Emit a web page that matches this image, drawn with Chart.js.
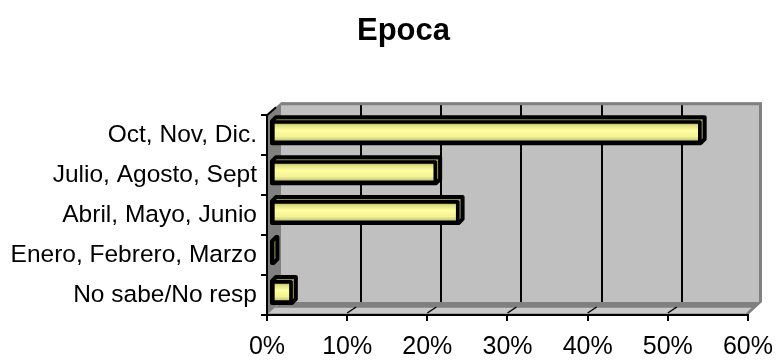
<!DOCTYPE html>
<html>
<head>
<meta charset="utf-8">
<script src="https://cdn.jsdelivr.net/npm/chart.js@4.4.1/dist/chart.umd.min.js"></script>
<style>
  html, body { margin: 0; padding: 0; background: #fff; }
  #wrap { width: 784px; height: 361px; }
</style>
</head>
<body>
<div id="wrap"><canvas id="c" width="784" height="361"></canvas></div>
<script>
// Época del año (porcentaje de respuestas)
const categories = ['Oct, Nov, Dic.', 'Julio, Agosto, Sept', 'Abril, Mayo, Junio', 'Enero, Febrero, Marzo', 'No sabe/No resp'];
const shares = [53.6, 20.6, 23.4, 0.3, 2.6];
const tickValues = [0, 10, 20, 30, 40, 50, 60];
const chartTitle = 'Epoca';

// 3D look: depth of the walls and the bars
const DX = 14, DY = -13;
const BAR_SHIFT_X = 4, BAR_SHIFT_Y = -3;
const BAR_DEPTH = 4;
const BAR_T = 22;
const FONT = "'Liberation Sans', Arial, sans-serif";

function poly(ctx, pts, fill, stroke, lw) {
  ctx.beginPath();
  ctx.moveTo(pts[0][0], pts[0][1]);
  for (let i = 1; i < pts.length; i++) ctx.lineTo(pts[i][0], pts[i][1]);
  ctx.closePath();
  if (fill) { ctx.fillStyle = fill; ctx.fill(); }
  if (stroke) { ctx.strokeStyle = stroke; ctx.lineWidth = lw || 1; ctx.stroke(); }
}
function seg(ctx, x1, y1, x2, y2) {
  ctx.beginPath(); ctx.moveTo(x1, y1); ctx.lineTo(x2, y2); ctx.stroke();
}

const walls = {
  id: 'walls',
  afterLayout(chart) {
    // centre the title over the plot box including its depth
    const tb = chart.titleBlock;
    if (tb) { tb.left = 59; tb.right = 748; }
  },
  beforeDraw(chart) {
    const { ctx, chartArea: a, scales: { x } } = chart;
    const x0 = x.getPixelForValue(tickValues[0]);
    const x1 = x.getPixelForValue(tickValues[tickValues.length - 1]);
    const top = a.top, bot = a.bottom;
    ctx.save();
    ctx.lineJoin = 'miter';
    // side wall
    poly(ctx, [[x0, top], [x0 + DX, top + DY], [x0 + DX, bot + DY], [x0, bot]], '#808080');
    // back wall
    poly(ctx, [[x0 + DX, top + DY], [x1 + DX, top + DY], [x1 + DX, bot + DY], [x0 + DX, bot + DY]], '#c0c0c0');
    // floor: dark rim with a lighter plate
    poly(ctx, [[x0, bot], [x0 + DX, bot + DY], [x1 + DX, bot + DY], [x1, bot]], '#808080');
    const ta = 0.12, tb = 0.55;
    poly(ctx, [[x0 + ta * DX, bot + ta * DY], [x0 + tb * DX, bot + tb * DY],
               [x1 + tb * DX - 4, bot + tb * DY], [x1 + ta * DX - 4, bot + ta * DY]], '#c8c8c8');
    // grid lines on the back wall
    ctx.strokeStyle = '#000'; ctx.lineWidth = 2;
    tickValues.slice(1, -1).forEach(v => {
      const px = Math.round(x.getPixelForValue(v) + DX);
      seg(ctx, px, top + DY + 2, px, bot + DY);
    });
    // wall rim
    ctx.strokeStyle = '#808080'; ctx.lineWidth = 3;
    ctx.beginPath();
    ctx.moveTo(x0 + DX, top + DY + 1.5);
    ctx.lineTo(x1 + DX - 1.5, top + DY + 1.5);
    ctx.lineTo(x1 + DX - 1.5, bot + DY);
    ctx.stroke();
    // floor tick marks
    ctx.strokeStyle = '#000'; ctx.lineWidth = 1.5;
    tickValues.slice(1, -1).forEach(v => {
      const px = x.getPixelForValue(v);
      seg(ctx, px, bot - 2, px + 9, bot - 8);
    });
    // top edge of the side wall
    ctx.lineWidth = 2;
    seg(ctx, x0, top, x0 + 9, top - 8);
    ctx.restore();
  },
  beforeDatasetsDraw(chart) {
    chart.ctx.save();
    chart.ctx.translate(BAR_SHIFT_X, BAR_SHIFT_Y);
  },
  afterDatasetsDraw(chart) {
    const ctx = chart.ctx;
    const meta = chart.getDatasetMeta(0);
    ctx.lineJoin = 'round';
    meta.data.forEach(bar => {
      const { x, y, base, height } = bar.getProps(['x', 'y', 'base', 'height'], true);
      const l = base, r = x, t = y - height / 2, b = y + height / 2;
      const d = BAR_DEPTH;
      // top face
      poly(ctx, [[l + 1, t], [l + 1 + d, t - d], [r + d, t - d], [r, t]], '#8c8c54');
      // end face
      poly(ctx, [[r, t], [r + d, t - d], [r + d, b - d], [r, b]], '#9c9c5c');
      // outline of the whole block
      poly(ctx, [[l, b], [l, t], [l + d, t - d], [r + d, t - d], [r + d, b - d], [r, b]], null, '#000', 4);
      ctx.lineWidth = 2;
      seg(ctx, r, t, r, b);
      seg(ctx, l, t, r, t);
    });
    ctx.restore();
  }
};

new Chart(document.getElementById('c'), {
  type: 'bar',
  data: {
    labels: categories,
    datasets: [{
      data: shares,
      barThickness: BAR_T,
      borderWidth: 3,
      borderColor: '#000',
      borderSkipped: false,
      clip: false,
      backgroundColor(ctx) {
        const chart = ctx.chart;
        const ys = chart.scales && chart.scales.y;
        if (!ys || ctx.type !== 'data') return '#f4f490';
        const c = ys.getPixelForValue(ctx.dataIndex);
        if (!Number.isFinite(c)) return '#f4f490';
        const g = chart.ctx.createLinearGradient(0, c - BAR_T / 2, 0, c + BAR_T / 2);
        g.addColorStop(0, '#8c8c54');
        g.addColorStop(0.2, '#e0e084');
        g.addColorStop(0.42, '#ffffa0');
        g.addColorStop(0.7, '#f2f296');
        g.addColorStop(1, '#a8a864');
        return g;
      }
    }]
  },
  options: {
    indexAxis: 'y',
    responsive: false,
    animation: false,
    devicePixelRatio: 1,
    layout: { padding: { left: 0, right: 36, top: 0, bottom: 0 } },
    plugins: {
      legend: { display: false },
      tooltip: { enabled: false },
      title: {
        display: true,
        text: chartTitle,
        color: '#000',
        font: { family: FONT, size: 31, weight: 'bold', lineHeight: 1.2 },
        padding: { top: 13, bottom: 65 }
      }
    },
    scales: {
      x: {
        min: tickValues[0],
        max: tickValues[tickValues.length - 1],
        afterBuildTicks(scale) { scale.ticks = tickValues.map(v => ({ value: v })); },
        afterFit(scale) { scale.height = 46; },
        grid: { drawOnChartArea: false, drawTicks: true, tickLength: 6, color: '#000', lineWidth: 2 },
        border: { display: true, color: '#000', width: 2 },
        ticks: {
          color: '#000',
          padding: 11,
          maxRotation: 0,
          font: { family: FONT, size: 25 },
          callback: v => v + '%'
        }
      },
      y: {
        afterFit(scale) { scale.width = 267; },
        grid: { offset: true, drawOnChartArea: false, drawTicks: true, tickLength: 6, color: '#000', lineWidth: 2 },
        border: { display: true, color: '#000', width: 2 },
        ticks: {
          color: '#000',
          padding: 4,
          font: { family: FONT, size: 24.5 }
        }
      }
    }
  },
  plugins: [walls]
});
</script>
</body>
</html>
